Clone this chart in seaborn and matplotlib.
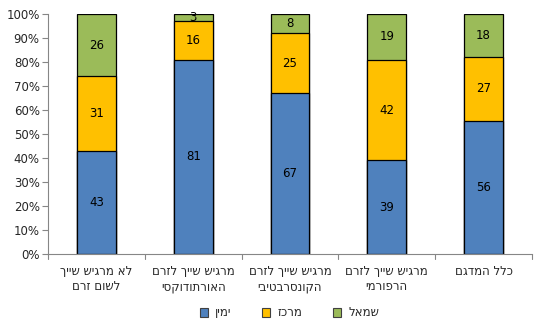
import numpy as np
import pandas as pd
import matplotlib
matplotlib.use("Agg")
import matplotlib.pyplot as plt
import seaborn as sns
from matplotlib.patches import Patch

categories = ["לא מרגיש שייך\nלשום זרם",
              "מרגיש שייך לזרם\nהאורתודוקסי",
              "מרגיש שייך לזרם\nהקונסרבטיבי",
              "מרגיש שייך לזרם\nהרפורמי",
              "כלל המדגם"]
series = ["ימין", "מרכז", "שמאל"]
right_vals = [43, 81, 67, 39, 56]
center_vals = [31, 16, 25, 42, 27]
left_vals = [26, 3, 8, 19, 18]
colors = ["#4F81BD", "#FFC000", "#9BBB59"]
yticks = [0, 10, 20, 30, 40, 50, 60, 70, 80, 90, 100]


def vis(s):
    # matplotlib has no bidi support: reverse each line for right-to-left display
    return "\n".join(line[::-1] for line in s.split("\n"))


sns.set_style("white")
plt.rcParams['font.family'] = ['DejaVu Sans']

vals = np.array([right_vals, center_vals, left_vals], dtype=float)
pct = vals / vals.sum(axis=0) * 100
cum = np.cumsum(pct, axis=0)

disp_cats = [vis(c) for c in categories]
fig = plt.figure(figsize=(5.39, 3.26), dpi=100)
ax = fig.add_axes([48/539, (326-254)/326, (532-48)/539, 240/326])

for i in range(2, -1, -1):
    df = pd.DataFrame({"cat": disp_cats, "top": cum[i]})
    sns.barplot(data=df, x="cat", y="top", color=colors[i], ax=ax,
                width=0.4, edgecolor="black", linewidth=0.9, saturation=1,
                order=disp_cats)

for j in range(len(categories)):
    bottom = 0
    for i in range(3):
        mid = bottom + pct[i, j] / 2
        ax.text(j, mid, f"{int(vals[i, j])}", ha="center", va="center",
                fontsize=8.5, color="black")
        bottom += pct[i, j]

ax.set_xlim(-0.5, len(categories) - 0.5)
ax.set_ylim(0, 100)
ax.set_yticks(yticks)
ax.set_yticklabels([f"{t}%" for t in yticks], fontsize=8.5)
ax.set_xticks(range(len(categories)))
ax.set_xticklabels(disp_cats, fontsize=8.5)
ax.set_xlabel("")
ax.set_ylabel("")
ax.tick_params(axis="x", length=0, pad=8)
ax.tick_params(axis="y", length=4, width=0.8, color="#868686", left=True, pad=2)
for b in np.arange(-0.5, len(categories), 1.0):
    ax.plot([b, b], [0, -2], color="#868686", lw=0.8, clip_on=False)
for s in ["top", "right"]:
    ax.spines[s].set_visible(False)
for s in ["left", "bottom"]:
    ax.spines[s].set_color("#868686")
    ax.spines[s].set_linewidth(0.8)

handles = [Patch(facecolor=colors[i], edgecolor="#404040", linewidth=0.8,
                 label=vis(series[i])) for i in range(3)]
fig.legend(handles=handles, loc="center", bbox_to_anchor=(0.537, 13/326),
           ncol=3, frameon=False, fontsize=8.5, handlelength=0.7,
           handleheight=0.7, columnspacing=2.6, handletextpad=0.6)

fig.savefig("out.png", dpi=100)
